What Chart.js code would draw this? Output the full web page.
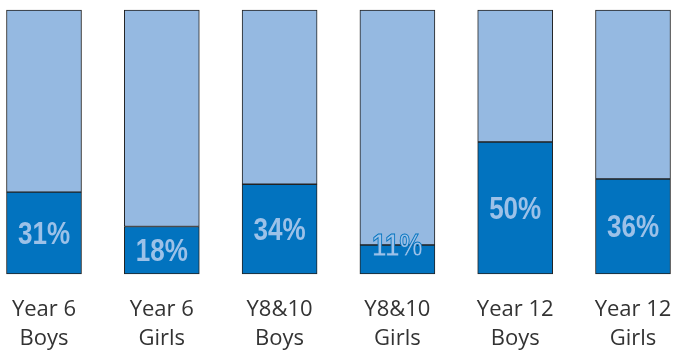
<!DOCTYPE html>
<html>
<head>
<meta charset="utf-8">
<script src="https://cdn.jsdelivr.net/npm/chart.js@4"></script>
<style>
    html, body { margin: 0; padding: 0; background: #fff; }
    #wrap { width: 673px; height: 351px; position: relative; }
</style>
</head>
<body>
<div id="wrap"><canvas id="shares"></canvas></div>
<script>
const groups = [
    ['Year 6', 'Boys'],
    ['Year 6', 'Girls'],
    ['Y8&10', 'Boys'],
    ['Y8&10', 'Girls'],
    ['Year 12', 'Boys'],
    ['Year 12', 'Girls']
];
const yesShare = [31, 18, 34, 11, 50, 36];
const restShare = yesShare.map(v => 100 - v);

const darkBlue = '#0273BF';
const lightBlue = '#95B9E1';
const labelBlue = '#9CC1E8';

// percentage text inside the dark part of each bar
const percentLabels = {
    id: 'percentLabels',
    afterDatasetsDraw(chart) {
        const ctx = chart.ctx;
        const meta = chart.getDatasetMeta(0);
        ctx.save();
        ctx.font = 'bold 31px "Liberation Sans Narrow", "Arial Narrow", sans-serif';
        ctx.textAlign = 'center';
        ctx.textBaseline = 'middle';
        meta.data.forEach((bar, i) => {
            const text = yesShare[i] + '%';
            let y = (bar.y + bar.base) / 2;
            const small = yesShare[i] < 15;
            if (small) y = bar.y;
            ctx.save();
            ctx.translate(bar.x, y + 2);
            ctx.scale(0.84, 1);
            ctx.fillStyle = labelBlue;
            ctx.fillText(text, 0, 0);
            if (small) {
                ctx.lineWidth = 1;
                ctx.strokeStyle = darkBlue;
                ctx.strokeText(text, 0, 0);
            }
            ctx.restore();
        });
        ctx.restore();
    }
};

const ctx = document.getElementById('shares').getContext('2d');

let sharesChart = new Chart(ctx, {
    type: 'bar',
    data: {
        labels: groups,
        datasets: [{
            data: yesShare,
            backgroundColor: darkBlue,
            borderColor: '#222',
            borderWidth: 1,
            borderSkipped: false,
            barThickness: 75,
            clip: false
        }, {
            data: restShare,
            backgroundColor: lightBlue,
            borderColor: '#222',
            borderWidth: 1,
            borderSkipped: false,
            barThickness: 75,
            clip: false
        }]
    },
    options: {
        responsive: true,
        maintainAspectRatio: false,
        animation: false,
        layout: {
            padding: { top: 10, left: 44, right: 40, bottom: 0 }
        },
        plugins: {
            legend: { display: false },
            tooltip: { enabled: false }
        },
        scales: {
            x: {
                stacked: true,
                offset: false,
                grid: { display: false },
                border: { display: false },
                afterFit(scale) {
                    scale.height = 77;
                    scale.paddingLeft = 0;
                    scale.paddingRight = 0;
                },
                ticks: {
                    color: '#333',
                    padding: 13,
                    maxRotation: 0,
                    font: { family: '"Open Sans", "Noto Sans", sans-serif', size: 22, lineHeight: 1.33 }
                }
            },
            y: {
                stacked: true,
                display: false,
                min: 0,
                max: 100
            }
        }
    },
    plugins: [percentLabels]
});
</script>
</body>
</html>
